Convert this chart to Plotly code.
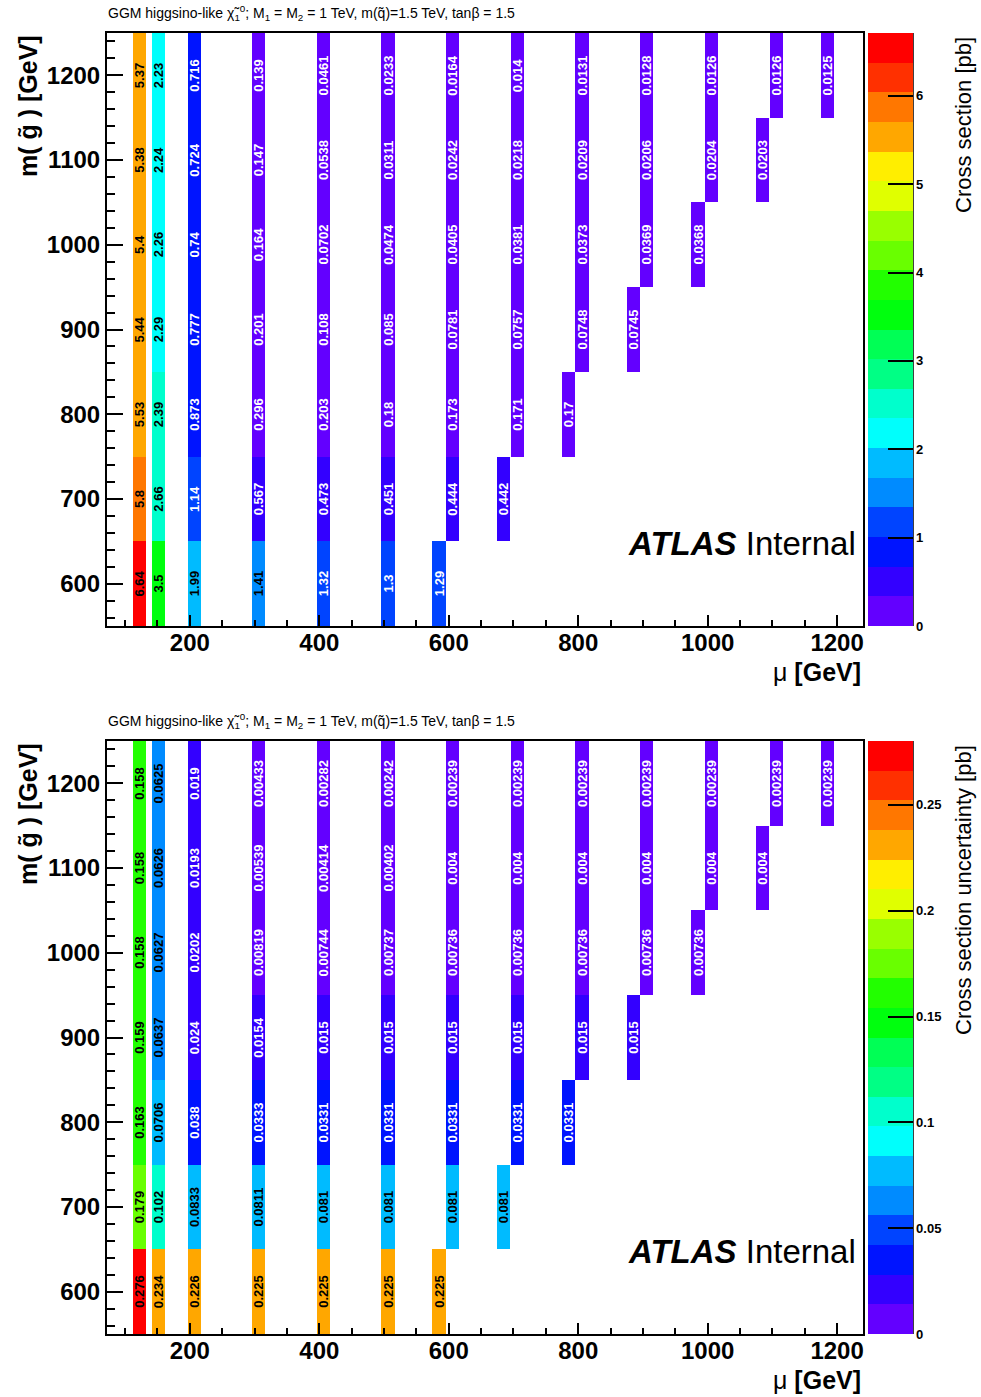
import colorsys
import plotly.graph_objects as go
from plotly.subplots import make_subplots

# Grid of GGM higgsino-like signal points: bin centre in mu and gluino mass (GeV)
mu = [
    122, 122, 122, 122, 122, 122, 122,
    151, 151, 151, 151, 151, 151, 151,
    207, 207, 207, 207, 207, 207, 207,
    306, 306, 306, 306, 306, 306, 306,
    406, 406, 406, 406, 406, 406, 406,
    506, 506, 506, 506, 506, 506, 506,
    606, 606, 606, 606, 606, 606, 585,
    706, 706, 706, 706, 706, 685,
    806, 806, 806, 806, 785,
    906, 906, 906, 885,
    1006, 1006, 985,
    1106, 1085,
    1185,
]
m_gluino = [
    1200, 1100, 1000, 900, 800, 700, 600,
    1200, 1100, 1000, 900, 800, 700, 600,
    1200, 1100, 1000, 900, 800, 700, 600,
    1200, 1100, 1000, 900, 800, 700, 600,
    1200, 1100, 1000, 900, 800, 700, 600,
    1200, 1100, 1000, 900, 800, 700, 600,
    1200, 1100, 1000, 900, 800, 700, 600,
    1200, 1100, 1000, 900, 800, 700,
    1200, 1100, 1000, 900, 800,
    1200, 1100, 1000, 900,
    1200, 1100, 1000,
    1200, 1100,
    1200,
]
# Production cross section [pb]
xsec = [
    5.37, 5.38, 5.4, 5.44, 5.53, 5.8, 6.64,
    2.23, 2.24, 2.26, 2.29, 2.39, 2.66, 3.5,
    0.716, 0.724, 0.74, 0.777, 0.873, 1.14, 1.99,
    0.139, 0.147, 0.164, 0.201, 0.296, 0.567, 1.41,
    0.0461, 0.0538, 0.0702, 0.108, 0.203, 0.473, 1.32,
    0.0233, 0.0311, 0.0474, 0.085, 0.18, 0.451, 1.3,
    0.0164, 0.0242, 0.0405, 0.0781, 0.173, 0.444, 1.29,
    0.014, 0.0218, 0.0381, 0.0757, 0.171, 0.442,
    0.0131, 0.0209, 0.0373, 0.0748, 0.17,
    0.0128, 0.0206, 0.0369, 0.0745,
    0.0126, 0.0204, 0.0368,
    0.0126, 0.0203,
    0.0125,
]
# Absolute cross-section uncertainty [pb]
xsec_unc = [
    0.158, 0.158, 0.158, 0.159, 0.163, 0.179, 0.276,
    0.0625, 0.0626, 0.0627, 0.0637, 0.0706, 0.102, 0.234,
    0.019, 0.0193, 0.0202, 0.024, 0.038, 0.0833, 0.226,
    0.00433, 0.00539, 0.00819, 0.0154, 0.0333, 0.0811, 0.225,
    0.00282, 0.00414, 0.00744, 0.015, 0.0331, 0.081, 0.225,
    0.00242, 0.00402, 0.00737, 0.015, 0.0331, 0.081, 0.225,
    0.00239, 0.004, 0.00736, 0.015, 0.0331, 0.081, 0.225,
    0.00239, 0.004, 0.00736, 0.015, 0.0331, 0.081,
    0.00239, 0.004, 0.00736, 0.015, 0.0331,
    0.00239, 0.004, 0.00736, 0.015,
    0.00239, 0.004, 0.00736,
    0.00239, 0.004,
    0.00239,
]

MU_BIN_WIDTH = 20.5
M_BIN_HEIGHT = 100
N_CONTOURS = 20
XSEC_ZMAX = 6.71
UNC_ZMAX = 0.2802

FONT = "Liberation Sans"
W, H = 981, 1397
L, R, T, B = 107, 118, 33, 63
PW = W - L - R
PH = H - T - B


def px_x(px):
    return (px - L) / PW


def px_y(py):
    return (H - B - py) / PH


def pretty_palette(ncontours=N_CONTOURS, ncolors=50):
    """Violet->red HLS spectrum, sampled per contour level as COLZ does."""
    cols = []
    for k in range(ncontours):
        idx = int((k + 0.99) * ncolors / ncontours)
        hue = 0.0 if idx >= ncolors - 1 else 280 - (idx + 1) * 280 / ncolors
        r, g, b = colorsys.hls_to_rgb(hue / 360.0, 0.5, 1.0)
        cols.append(f"rgb({round(r * 255)},{round(g * 255)},{round(b * 255)})")
    return cols


def stepped_scale(cols):
    n = len(cols)
    scale = []
    for k, c in enumerate(cols):
        scale.append([k / n, c])
        scale.append([(k + 1) / n, c])
    return scale


palette = pretty_palette()
colorscale = stepped_scale(palette)


def label_colours(values, zmax):
    out = []
    for v in values:
        level = int(v / zmax * N_CONTOURS)
        out.append("black" if level >= 4 else "white")
    return out


fig = make_subplots(rows=2, cols=1, vertical_spacing=115 / PH)

panels = [
    (xsec, XSEC_ZMAX, "coloraxis", 1),
    (xsec_unc, UNC_ZMAX, "coloraxis2", 2),
]
for values, zmax, cax, row in panels:
    fig.add_trace(
        go.Bar(
            x=mu,
            y=[M_BIN_HEIGHT] * len(mu),
            base=[m - M_BIN_HEIGHT / 2 for m in m_gluino],
            width=MU_BIN_WIDTH,
            marker=dict(color=values, coloraxis=cax, line=dict(width=0)),
            text=[f"{v:.3g}" for v in values],
            textposition="inside",
            insidetextanchor="middle",
            textangle=-90,
            textfont=dict(family=FONT, size=13, weight="bold",
                          color=label_colours(values, zmax)),
            showlegend=False,
            hoverinfo="skip",
        ),
        row=row, col=1,
    )

top_dom = [px_y(626), 1.0]
bot_dom = [0.0, px_y(741)]

axis_common = dict(
    showgrid=False, zeroline=False, showline=True, linecolor="black",
    linewidth=2, mirror=True, ticks="inside", tickcolor="black",
    tickwidth=1.5,
    tickfont=dict(family=FONT, size=24, color="black", weight="bold"),
)
for row in (1, 2):
    fig.update_xaxes(
        range=[72, 1240], tick0=0, dtick=200, ticklen=11,
        ticklabelstandoff=-6,
        minor=dict(ticks="inside", dtick=50, ticklen=6, tickcolor="black",
                   tickwidth=1.5),
        row=row, col=1, **axis_common,
    )
    fig.update_yaxes(
        range=[550, 1250], tick0=600, dtick=100, ticklen=16,
        minor=dict(ticks="inside", dtick=20, ticklen=8, tickcolor="black",
                   tickwidth=1.5),
        row=row, col=1, **axis_common,
    )
fig.update_yaxes(domain=top_dom, row=1, col=1)
fig.update_yaxes(domain=bot_dom, row=2, col=1)


def colorbar(dom, dtick):
    return dict(
        x=px_x(868), xanchor="left", xpad=0,
        y=(dom[0] + dom[1]) / 2, yanchor="middle", ypad=0,
        len=dom[1] - dom[0], lenmode="fraction",
        thickness=45, thicknessmode="pixels",
        outlinewidth=0,
        ticks="inside", ticklen=25, tickwidth=1.5, tickcolor="black",
        tick0=0, dtick=dtick,
        tickfont=dict(family=FONT, size=13, color="black", weight="bold"),
    )


fig.update_layout(
    width=W, height=H,
    margin=dict(l=L, r=R, t=T, b=B),
    paper_bgcolor="white", plot_bgcolor="white",
    barmode="overlay", bargap=0,
    uniformtext=dict(minsize=13, mode="show"),
    coloraxis=dict(colorscale=colorscale, cmin=0, cmax=XSEC_ZMAX,
                   colorbar=colorbar(top_dom, 1)),
    coloraxis2=dict(colorscale=colorscale, cmin=0, cmax=UNC_ZMAX,
                    colorbar=colorbar(bot_dom, 0.05)),
)

header = ("GGM higgsino-like χ̃<sub>1</sub><sup>0</sup>; M<sub>1</sub> = M<sub>2</sub>"
          " = 1 TeV, m(q̃)=1.5 TeV, tanβ = 1.5")
annotations = []
shapes = []
for dom, plot_top, plot_bot, ztitle in [
    (top_dom, 33, 626, "Cross section [pb]"),
    (bot_dom, 741, 1334, "Cross section uncertainty [pb]"),
]:
    annotations += [
        dict(text=header, x=px_x(106), y=px_y(plot_top - 20), xref="paper",
             yref="paper", xanchor="left", yanchor="middle", showarrow=False,
             font=dict(family=FONT, size=14, color="black")),
        dict(text="<b><i>ATLAS</i></b> Internal", x=px_x(858),
             y=px_y(plot_top + 510), xref="paper", yref="paper",
             xanchor="right", yanchor="middle", showarrow=False,
             font=dict(family=FONT, size=33, color="black")),
        dict(text="μ <b>[GeV]</b>", x=1.0, y=px_y(plot_bot + 46),
             xref="paper", yref="paper", xanchor="right", yanchor="middle",
             showarrow=False, font=dict(family=FONT, size=25, color="black")),
        dict(text="<b>m( g̃ ) [GeV]</b>", x=px_x(28), y=px_y(plot_top),
             xref="paper", yref="paper", xanchor="center", yanchor="top",
             textangle=-90, showarrow=False,
             font=dict(family=FONT, size=25, color="black")),
        dict(text=ztitle, x=px_x(963), y=px_y(plot_top + 2), xref="paper",
             yref="paper", xanchor="center", yanchor="top", textangle=-90,
             showarrow=False, font=dict(family=FONT, size=22, color="black")),
    ]
    shapes.append(dict(type="line", xref="paper", yref="paper",
                       x0=px_x(913), x1=px_x(913), y0=dom[0], y1=dom[1],
                       line=dict(color="black", width=1.5)))

fig.update_layout(annotations=annotations, shapes=shapes)

fig.write_html("out.html")
